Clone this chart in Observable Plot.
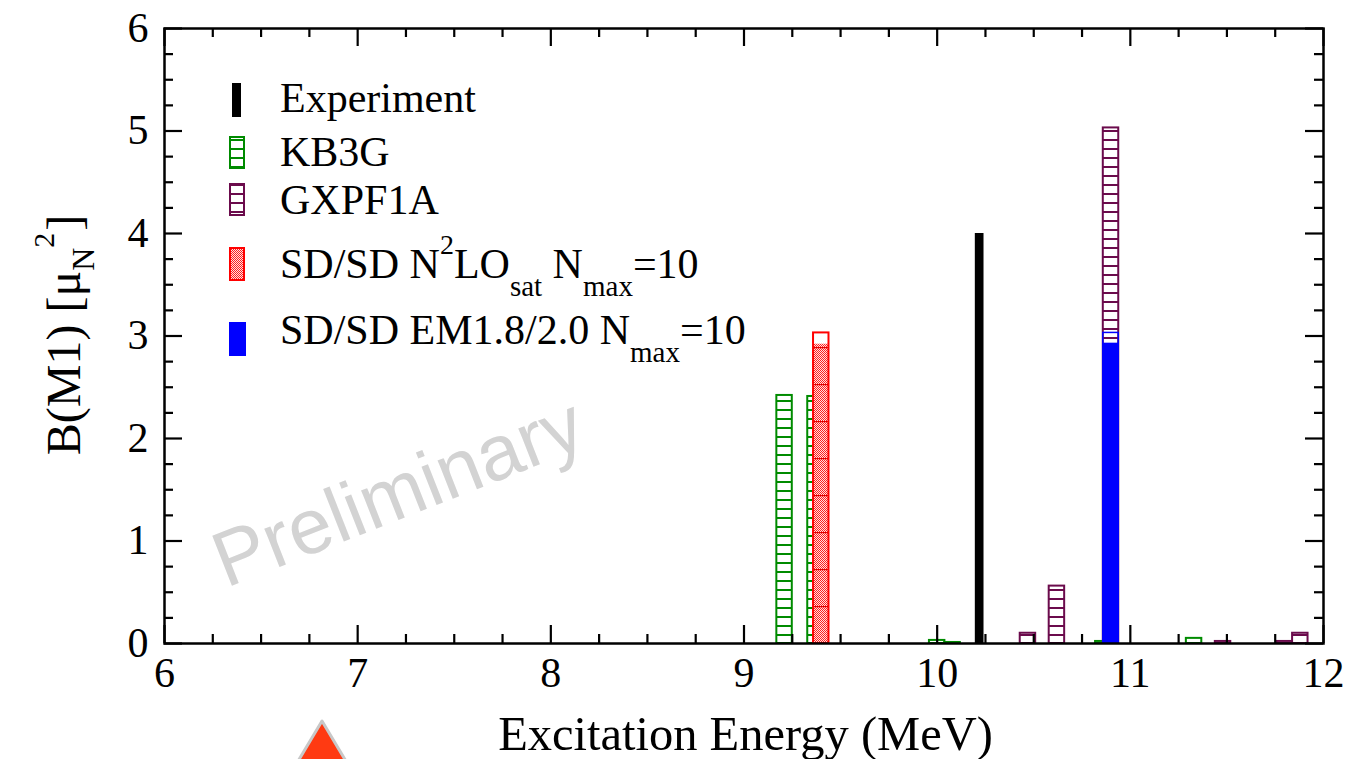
<!DOCTYPE html>
<html><head><meta charset="utf-8">
<script src="https://cdn.jsdelivr.net/npm/d3@7"></script>
<script src="https://cdn.jsdelivr.net/npm/@observablehq/plot@0.6"></script>
<style>
html,body{margin:0;padding:0;background:#fff;overflow:hidden}
#chart{position:relative;width:1356px;height:759px}
#deco{position:absolute;left:0;top:0;pointer-events:none}
</style></head><body><div id="chart"></div>
<script>
// ---- data ----
const xTicks = [6, 7, 8, 9, 10, 11, 12];
const yTicks = [0, 1, 2, 3, 4, 5, 6];
const expE = [10.22];
const expB = [4.00];
const kb3gE = [9.21, 9.37, 10.00, 10.08, 10.86, 11.33];
const kb3gB = [2.42, 2.41, 0.03, 0.01, 0.02, 0.05];
const gxE = [10.47, 10.62, 10.90, 11.48, 11.80, 11.88];
const gxB = [0.10, 0.56, 5.03, 0.02, 0.02, 0.10];
const n2loE = [9.40];
const n2loTop = [3.03];   // outline
const n2loB = [2.92];     // filled part
const emE = [10.90];
const emTop = [3.03];
const emB = [2.93];
const legendLabels = ["Experiment", "KB3G", "GXPF1A", "SD/SD N2LOsat Nmax=10", "SD/SD EM1.8/2.0 Nmax=10"];

// ---- style ----
const W = 1356, H = 759, mL = 164, mR = 33, mT = 28, mB = 116;
const plotW = W - mL - mR, plotH = H - mT - mB;
const bw = 0.08, bwExp = 0.045;
const GREEN = "#008b00", MAROON = "#6b0b4c", RED = "#ff0000", BLUE = "#0000ff";
const SERIF = "'Liberation Serif','Times New Roman',serif";
const bars = (E, B, w) => E.map((e, i) => ({x1: e - w / 2, x2: e + w / 2, y: B[i]}));
const xMinor = d3.range(6, 12.001, 0.25).filter(v => Math.abs(v - Math.round(v)) > 1e-6);
const yMinor = d3.range(0, 6.001, 0.25).filter(v => Math.abs(v - Math.round(v)) > 1e-6);

const plot = Plot.plot({
  width: W, height: H,
  marginLeft: mL, marginRight: mR, marginTop: mT, marginBottom: mB,
  style: {fontFamily: SERIF, fontSize: "42px", color: "black", background: "white"},
  x: {domain: [6, 12]},
  y: {domain: [0, 6]},
  marks: [
    Plot.rect(bars(kb3gE, kb3gB, bw), {x1: "x1", x2: "x2", y1: 0, y2: "y", fill: "#00ff01", stroke: GREEN, strokeWidth: 2}),
    Plot.rect(bars(gxE, gxB, bw), {x1: "x1", x2: "x2", y1: 0, y2: "y", fill: "#00ff02", stroke: MAROON, strokeWidth: 2}),
    Plot.rect(bars(expE, expB, bwExp), {x1: "x1", x2: "x2", y1: 0, y2: "y", fill: "black"}),
    Plot.rect(bars(n2loE, n2loB, bw), {x1: "x1", x2: "x2", y1: 0, y2: "y", fill: "#00ff03"}),
    Plot.rect(bars(n2loE, n2loB, bw), {x1: "x1", x2: "x2", y1: 0, y2: "y", fill: "#00ff04"}),
    Plot.rect(bars(n2loE, n2loTop, bw), {x1: "x1", x2: "x2", y1: 0, y2: "y", fill: "none", stroke: RED, strokeWidth: 2}),
    Plot.rect(bars(emE, emB, bw), {x1: "x1", x2: "x2", y1: 0, y2: "y", fill: BLUE}),
    Plot.rect(bars(emE, emTop, bw), {x1: "x1", x2: "x2", y1: 0, y2: "y", fill: "none", stroke: BLUE, strokeWidth: 1.5}),
    Plot.frame({stroke: "black", strokeWidth: 2.5}),
    Plot.tickX(xTicks, {x: d => d, insetTop: plotH - 18, stroke: "black", strokeWidth: 2.2}),
    Plot.tickX(xTicks, {x: d => d, insetBottom: plotH - 18, stroke: "black", strokeWidth: 2.2}),
    Plot.tickX(xMinor, {x: d => d, insetTop: plotH - 9, stroke: "black", strokeWidth: 2.2}),
    Plot.tickX(xMinor, {x: d => d, insetBottom: plotH - 9, stroke: "black", strokeWidth: 2.2}),
    Plot.tickY(yTicks, {y: d => d, insetRight: plotW - 18, stroke: "black", strokeWidth: 2.2}),
    Plot.tickY(yTicks, {y: d => d, insetLeft: plotW - 18, stroke: "black", strokeWidth: 2.2}),
    Plot.tickY(yMinor, {y: d => d, insetRight: plotW - 9, stroke: "black", strokeWidth: 2.2}),
    Plot.tickY(yMinor, {y: d => d, insetLeft: plotW - 9, stroke: "black", strokeWidth: 2.2}),
    Plot.axisX(xTicks, {tickSize: 0, tickPadding: 14, fontSize: 42, fontFamily: SERIF, label: null, tickFormat: d => String(d)}),
    Plot.axisY(yTicks, {tickSize: 0, tickPadding: 16, fontSize: 42, fontFamily: SERIF, label: null, tickFormat: d => String(d)})
  ]
});
document.getElementById("chart").appendChild(plot);

const svg = d3.select(plot);
const defs = svg.insert("defs", ":first-child");
function hatch(id, color) {
  const p = defs.append("pattern").attr("id", id).attr("patternUnits", "userSpaceOnUse")
    .attr("x", 0).attr("y", 643).attr("width", 10).attr("height", 9);
  p.append("rect").attr("width", 10).attr("height", 9).attr("fill", "white");
  p.append("rect").attr("y", 0).attr("width", 10).attr("height", 2).attr("fill", color);
}
hatch("hatchGreen", GREEN);
hatch("hatchMaroon", MAROON);
const chk = defs.append("pattern").attr("id", "checkRed").attr("patternUnits", "userSpaceOnUse")
  .attr("width", 2).attr("height", 2);
chk.append("rect").attr("width", 2).attr("height", 2).attr("fill", "#ffe0e0");
chk.append("rect").attr("width", 1).attr("height", 1).attr("fill", "#ff2020");
chk.append("rect").attr("x", 1).attr("y", 1).attr("width", 1).attr("height", 1).attr("fill", "#ff2020");
const rl = defs.append("pattern").attr("id", "linesRed").attr("patternUnits", "userSpaceOnUse")
  .attr("y", 643).attr("width", 10).attr("height", 37);
rl.append("rect").attr("width", 10).attr("height", 1.2).attr("fill", "#e00000");

const swap = {"#00ff01": "url(#hatchGreen)", "#00ff02": "url(#hatchMaroon)", "#00ff03": "url(#checkRed)", "#00ff04": "url(#linesRed)"};
svg.selectAll("[fill]").each(function () {
  const f = (this.getAttribute("fill") || "").toLowerCase();
  if (swap[f]) this.setAttribute("fill", swap[f]);
});

// axis titles
svg.append("text").attr("x", (mL + W - mR) / 2 + 2).attr("y", 750).attr("text-anchor", "middle")
  .attr("font-family", SERIF).attr("font-size", 48.5).attr("fill", "black").text("Excitation Energy (MeV)");
const yl = svg.append("text").attr("transform", "translate(80,335) rotate(-90)").attr("text-anchor", "middle")
  .attr("font-family", SERIF).attr("font-size", 48).attr("fill", "black");
yl.append("tspan").text("B(M1) [μ");
yl.append("tspan").attr("dy", 14).attr("font-size", 32).text("N");
yl.append("tspan").attr("dy", -40).attr("font-size", 30).text("2");
yl.append("tspan").attr("dy", 26).attr("dx", 2).text("]");

// watermark
svg.append("text").attr("transform", "translate(226,588) rotate(-21.5)").attr("text-anchor", "start")
  .attr("font-family", "'Liberation Sans',Arial,sans-serif").attr("font-size", 78)
  .attr("fill", "#d3d3d3").text("Preliminary");

// legend
const lg = svg.append("g").attr("font-family", SERIF).attr("font-size", 42).attr("fill", "black").attr("text-anchor", "start");
lg.append("rect").attr("x", 232).attr("y", 83).attr("width", 9).attr("height", 34).attr("fill", "black");
lg.append("rect").attr("x", 230).attr("y", 137).attr("width", 14).attr("height", 31).attr("fill", "url(#hatchGreen)").attr("stroke", GREEN).attr("stroke-width", 2);
lg.append("rect").attr("x", 230).attr("y", 184).attr("width", 14).attr("height", 31).attr("fill", "url(#hatchMaroon)").attr("stroke", MAROON).attr("stroke-width", 2);
lg.append("rect").attr("x", 230).attr("y", 248).attr("width", 14).attr("height", 32).attr("fill", "url(#checkRed)").attr("stroke", RED).attr("stroke-width", 2);
lg.append("rect").attr("x", 229).attr("y", 322).attr("width", 17).attr("height", 34).attr("fill", BLUE);
function ltext(y, parts) {
  const t = lg.append("text").attr("x", 280).attr("y", y).attr("text-anchor", "start");
  parts.forEach(p => t.append("tspan").attr("dy", p.dy || 0).attr("font-size", p.s || 42).text(p.t));
}
ltext(112, [{t: legendLabels[0]}]);
ltext(166, [{t: legendLabels[1]}]);
ltext(214, [{t: legendLabels[2]}]);
ltext(278, [{t: "SD/SD N"}, {t: "2", s: 28, dy: -24}, {t: "LO", dy: 24}, {t: "sat", s: 29, dy: 18}, {t: " N", dy: -18}, {t: "max", s: 29, dy: 18}, {t: "=10", dy: -18}]);
ltext(344, [{t: "SD/SD EM1.8/2.0 N"}, {t: "max", s: 29, dy: 18}, {t: "=10", dy: -18}]);

// decorative slide triangle at the bottom edge
const deco = d3.select("#chart").append("svg").attr("id", "deco").attr("width", W).attr("height", H);
deco.append("path").attr("d", "M322,721 L288,778 L356,778 Z").attr("fill", "#ff3a12")
  .attr("stroke", "#c8c8c8").attr("stroke-width", 3).attr("stroke-linejoin", "round");
</script></body></html>
